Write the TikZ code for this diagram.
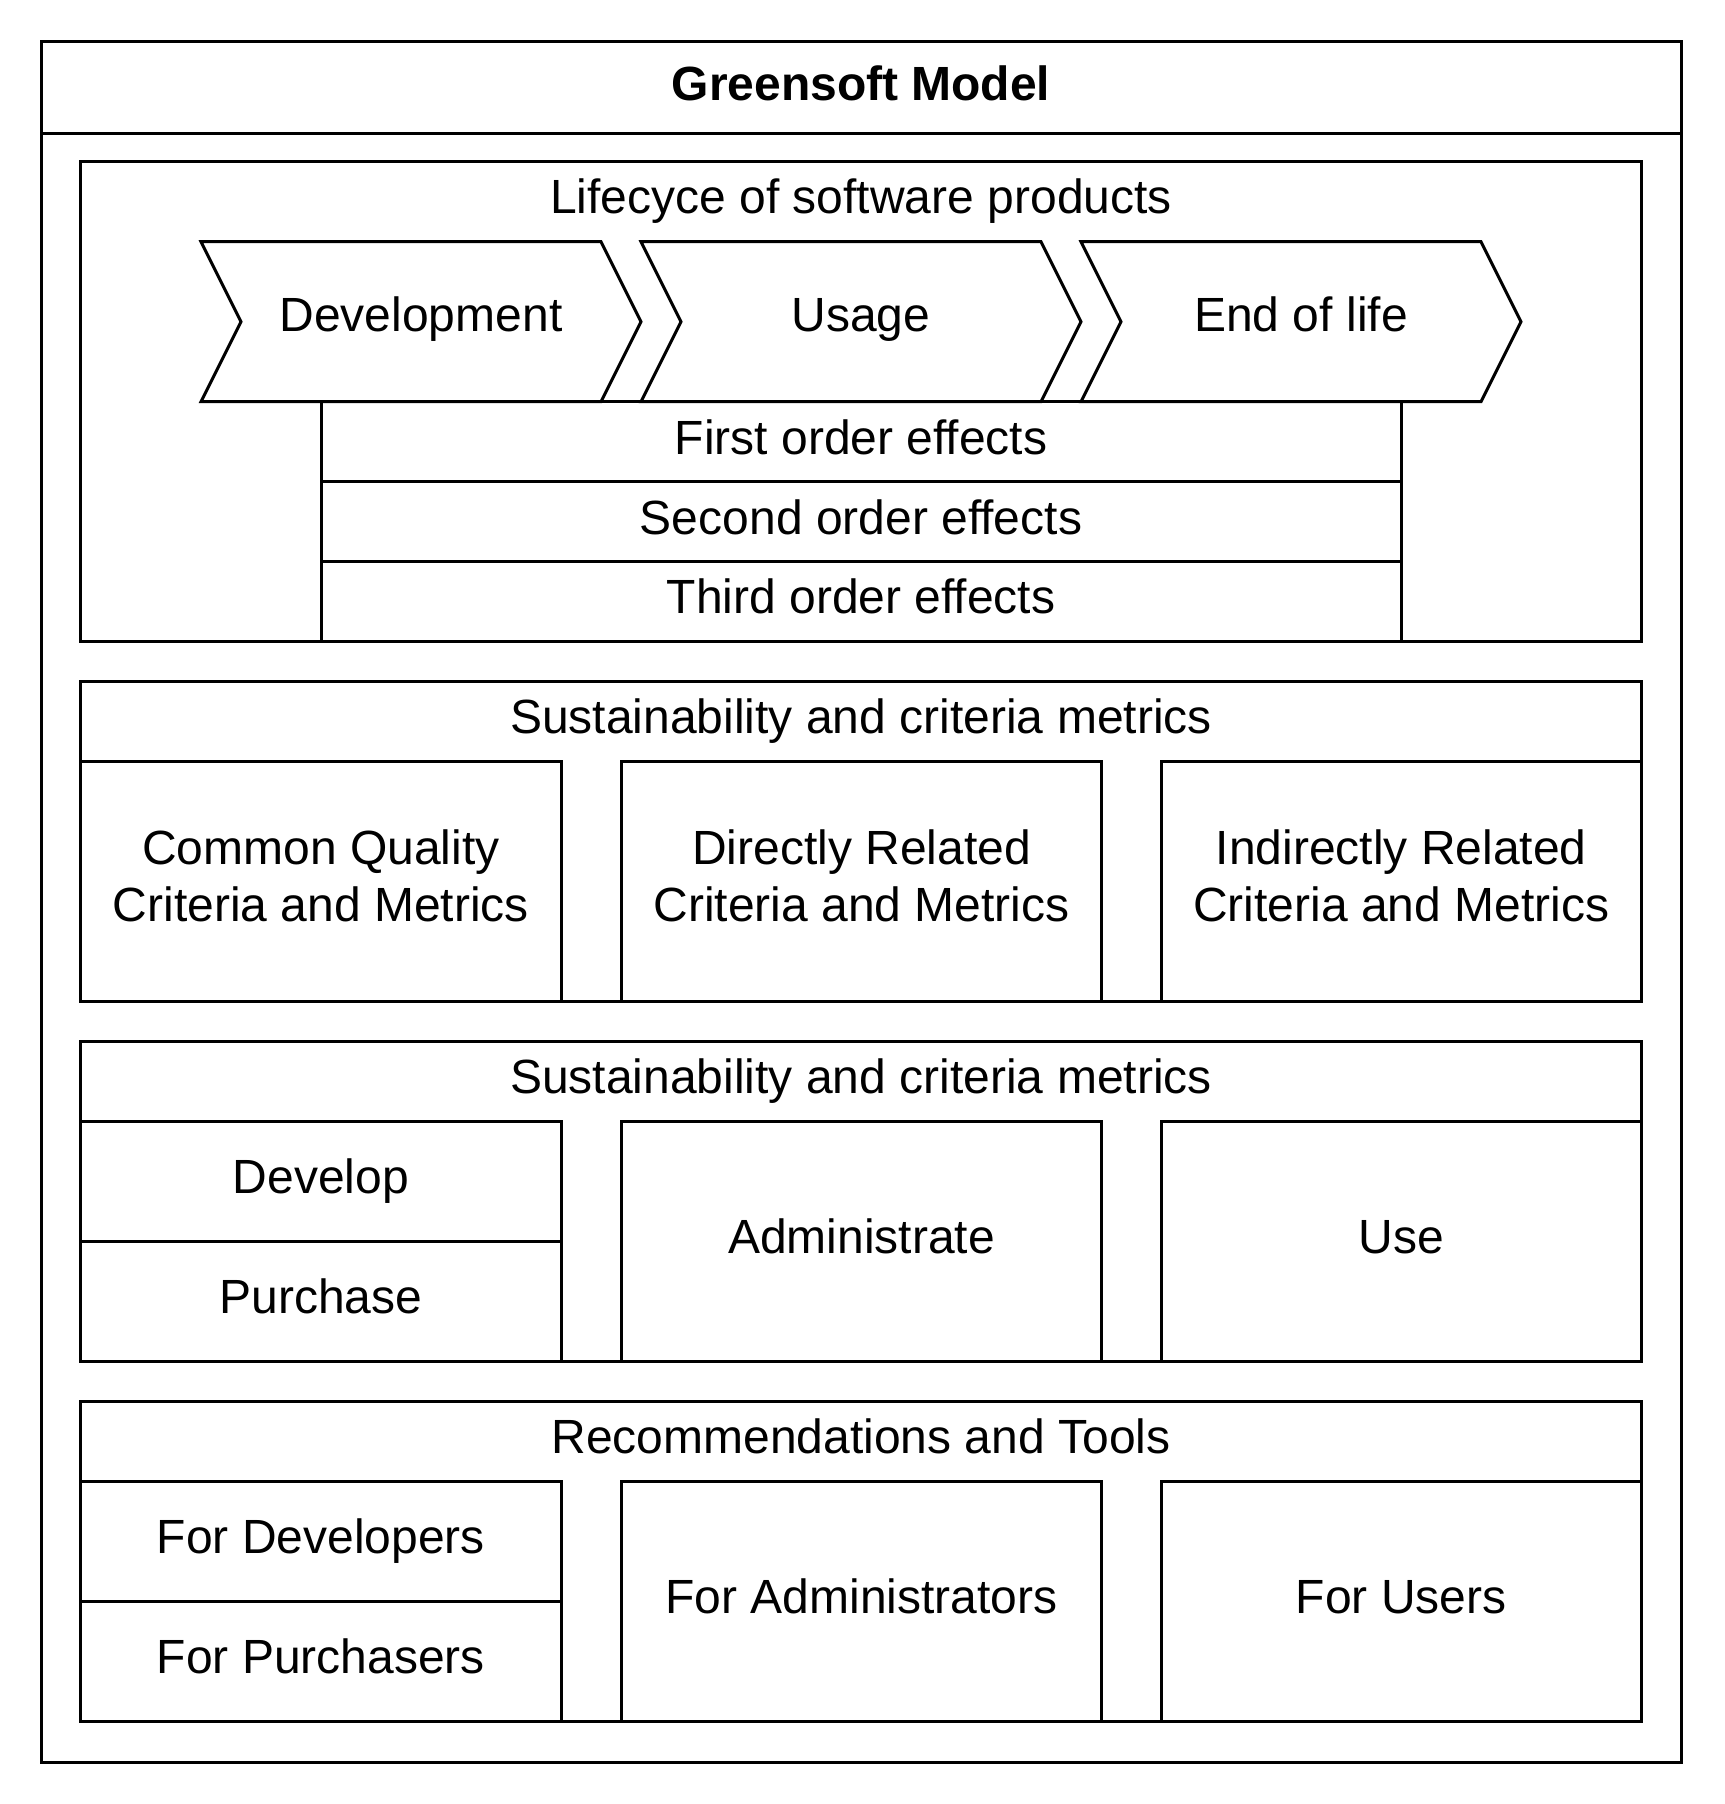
\documentclass[tikz,border=0pt]{standalone}
\usepackage{fontspec}
\setmainfont{Liberation Sans}
\begin{document}
\begin{tikzpicture}[x=0.5pt,y=-0.5pt,
  ln/.style={line width=1.5pt},
  lbl/.style={font=\fontsize{24pt}{28.8pt}\selectfont, inner sep=0pt, align=center},
  bl/.style={lbl, anchor=base}]
\useasboundingbox (0,0) rectangle (1724,1804);
% outer frame
\draw[ln] (41,41) rectangle (1681,1762);
\draw[ln] (41,133.5) -- (1681,133.5);
\node[bl, font=\fontsize{24pt}{28.8pt}\selectfont\bfseries] (title) at (861,100) {Greensoft Model};
% lifecycle
\draw[ln] (80.6,161) rectangle (1641,641);
\node[bl] (lc) at (861,213) {Lifecyce of software products};
\foreach \i/\t/\n in {0/Development/dev,1/Usage/usg,2/End of life/eol}{
  \pgfmathsetmacro\xa{201+440*\i}
  \draw[ln] (\xa,241.7) -- ++(400,0) -- ++(40,80) -- ++(-40,80) -- ++(-400,0) -- ++(40,-80) -- cycle;
  \node[bl] (\n) at (\xa+220,331) {\t};
}
% effects
\draw[ln] (321,401.7) rectangle (1401,641);
\draw[ln] (321,481.5) -- (1401,481.5);
\draw[ln] (321,561.5) -- (1401,561.5);
\node[bl] (e1) at (861,454) {First order effects};
\node[bl] (e2) at (861,534) {Second order effects};
\node[bl] (e3) at (861,613) {Third order effects};
% sections
\foreach \T/\h/\n in {681/Sustainability and criteria metrics/sa,1041/Sustainability and criteria metrics/sb,1401/Recommendations and Tools/sc}{
  \draw[ln] (80.6,\T) rectangle (1641,\T+320);
  \draw[ln] (80.6,\T+80) rectangle (561.6,\T+320);
  \draw[ln] (621.6,\T+80) rectangle (1101.6,\T+320);
  \draw[ln] (1161.6,\T+80) rectangle (1641,\T+320);
  \node[bl] (\n) at (861,\T+52) {\h};
}
\draw[ln] (80.6,1241) -- (561.6,1241);
\draw[ln] (80.6,1601) -- (561.6,1601);
% section 1 boxes
\node[lbl] (cq) at (321,876) {Common Quality\\Criteria and Metrics};
\node[lbl] (dr) at (861.6,876) {Directly Related\\Criteria and Metrics};
\node[lbl] (ir) at (1401.3,876) {Indirectly Related\\Criteria and Metrics};
% section 2 boxes
\node[bl] (dev2) at (321,1193) {Develop};
\node[bl] (pur) at (321,1313) {Purchase};
\node[bl] (adm) at (861.6,1253) {Administrate};
\node[bl] (use) at (1401.3,1253) {Use};
% section 3 boxes
\node[bl] (fdev) at (321,1553) {For Developers};
\node[bl] (fpur) at (321,1673) {For Purchasers};
\node[bl] (fadm) at (861.6,1613) {For Administrators};
\node[bl] (fuse) at (1401.3,1613) {For Users};
\end{tikzpicture}
\end{document}
